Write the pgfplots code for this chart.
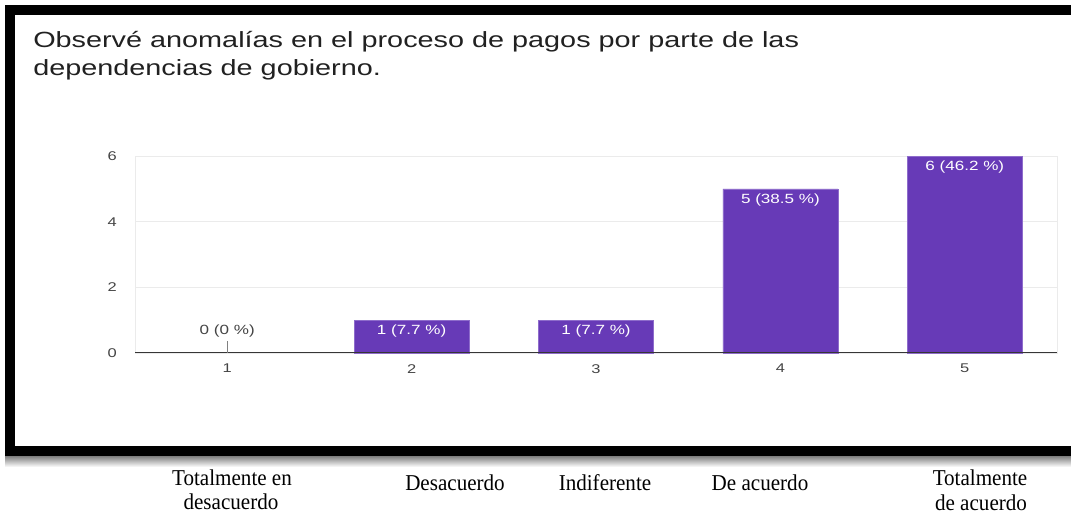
\documentclass[border=0pt]{standalone}
\usepackage{pgfplots}
\pgfplotsset{compat=1.18}
\usepackage{fontspec}
\setmainfont{Liberation Sans}
\newfontfamily\serif{Liberation Serif}
\definecolor{bar}{HTML}{673AB7}
\definecolor{baredge}{HTML}{8E6CCB}
\definecolor{gridc}{HTML}{EBEBEB}
\definecolor{ticktxt}{HTML}{444444}
\definecolor{titletxt}{HTML}{212121}
\newcommand\wide[1]{\scalebox{1.3}[1]{#1}}
\newcommand\narrow[1]{\scalebox{0.93}[1]{#1}}

\begin{document}
\begin{tikzpicture}
\useasboundingbox (0,0) rectangle (803.25pt,-387pt);
\begin{scope}[x=0.75pt,y=-0.75pt]
  % frame of the screenshot and its shadow
  \shade[top color=black!55, bottom color=white] (5,455) rectangle (1071,467);
  \draw[line width=7.5pt] (10,10) rectangle (1100,451);
  % title
  \node[anchor=base west, inner sep=0, text=titletxt, font=\fontsize{16.5}{19}\selectfont]
    at (33,48) {\scalebox{1.31}[1]{Observé anomalías en el proceso de pagos por parte de las}};
  \node[anchor=base west, inner sep=0, text=titletxt, font=\fontsize{16.5}{19}\selectfont]
    at (33,76) {\scalebox{1.31}[1]{dependencias de gobierno.}};
  % category names under the frame
  \begin{scope}[every node/.style={anchor=base, inner sep=0, font=\serif\fontsize{17}{20}\selectfont}]
    \node at (232,485) {\narrow{Totalmente en}};
    \node at (231,509.5) {\narrow{desacuerdo}};
    \node at (455,490.5) {\narrow{Desacuerdo}};
    \node at (605,490.5) {\narrow{Indiferente}};
    \node at (760,490.5) {\narrow{De acuerdo}};
    \node at (980,485.5) {\narrow{Totalmente}};
    \node at (981,510) {\narrow{de acuerdo}};
  \end{scope}
\end{scope}

\begin{axis}[
    at={(101.25pt,-264.75pt)}, anchor=south west,
    scale only axis, width=691.5pt, height=147.75pt,
    xmin=0.5, xmax=5.5, ymin=0, ymax=6,
    ybar, bar width=0.624,
    xtick={1,2,3,4,5},
    xticklabels={\wide{1},\wide{2},\wide{3},\wide{4},\wide{5}},
    ytick={0,2,4,6},
    yticklabels={\wide{0},\wide{2},\wide{4},\wide{6}},
    major tick length=0,
    ymajorgrids, grid style={gridc, line width=0.75pt},
    axis line style={gridc},
    tick label style={font=\fontsize{9.5}{11}\selectfont, text=ticktxt},
    xticklabel style={anchor=north, inner sep=0, yshift=-8.25pt},
    yticklabel style={anchor=east, inner sep=0, xshift=-13.5pt},
    point meta=explicit symbolic,
    clip=false,
]
% bars with a count
\addplot[bar shift=0pt, fill=bar, draw=baredge,
    nodes near coords={\scalebox{1.28}[1]{\pgfplotspointmeta}},
    every node near coord/.append style={anchor=north, inner sep=0, yshift=-3.5pt,
        text=white, font=\fontsize{10}{12}\selectfont}]
    coordinates {(2,1) [1 (7.7 \%)] (3,1) [1 (7.7 \%)] (4,5) [5 (38.5 \%)] (5,6) [6 (46.2 \%)]};
% empty category
\addplot[bar shift=0pt, draw=none, fill=none,
    nodes near coords={\shortstack{\scalebox{1.28}[1]{\pgfplotspointmeta}\\\textcolor{gray}{\rule{0.75pt}{8.5pt}}}},
    every node near coord/.append style={anchor=south, inner sep=0,
        text=ticktxt, font=\fontsize{10}{12}\selectfont}]
    coordinates {(1,0) [0 (0 \%)]};
\draw[color=ticktxt!80!black, line width=0.75pt] (axis cs:0.5,0) -- (axis cs:5.5,0);
\end{axis}
\end{tikzpicture}
\end{document}
